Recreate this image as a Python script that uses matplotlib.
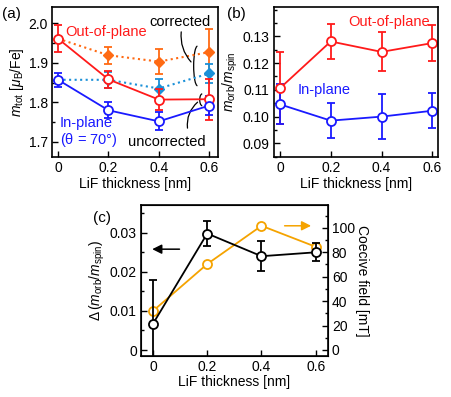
import numpy as np
import matplotlib
matplotlib.use('Agg')
import matplotlib.pyplot as plt
from matplotlib.patches import Arc
from matplotlib.ticker import MultipleLocator

plt.rcParams['font.family'] = ['Liberation Sans', 'DejaVu Sans']
plt.rcParams['mathtext.fontset'] = 'custom'
plt.rcParams['mathtext.rm'] = 'Liberation Sans'
plt.rcParams['mathtext.it'] = 'Liberation Sans:italic'
plt.rcParams['mathtext.bf'] = 'Liberation Sans:bold'
plt.rcParams['font.size'] = 10

# data
lif = [0, 0.2, 0.4, 0.6]

# (a) total moment
mtot_oop = [1.961, 1.858, 1.807, 1.808]
mtot_oop_err = [0.035, 0.022, 0.026, 0.052]
mtot_ip = [1.857, 1.780, 1.752, 1.792]
mtot_ip_err = [0.017, 0.020, 0.023, 0.023]
mtot_oop_corr = [1.961, 1.919, 1.903, 1.927]
mtot_oop_corr_err = [0.0, 0.021, 0.031, 0.059]
mtot_ip_corr = [1.857, 1.857, 1.835, 1.873]
mtot_ip_corr_err = [0.0, 0.020, 0.025, 0.024]

# (b) orbital / spin ratio
ratio_oop = [0.1106, 0.1281, 0.1242, 0.1275]
ratio_oop_err = [0.0135, 0.0066, 0.0073, 0.0066]
ratio_ip = [0.1046, 0.0985, 0.1000, 0.1022]
ratio_ip_err = [0.0075, 0.0065, 0.0085, 0.0065]

# (c) anisotropy of ratio and coercive field
d_ratio = [0.0067, 0.0298, 0.0240, 0.0250]
d_ratio_err = [0.0113, 0.0033, 0.0039, 0.0023]
coercive = [31.9, 70.3, 101.6, 84.4]

RED = '#ff1a1a'
BLUE = '#1a1aff'
ORANGE = '#ff6a13'
LBLUE = '#1a90d8'
YEL = '#f5a300'

fig = plt.figure(figsize=(4.52, 3.97), dpi=100)


def style(ax):
    ax.tick_params(direction='in', length=4, width=1, labelsize=10, pad=3)
    ax.tick_params(which='minor', direction='in', length=2, width=1)
    for s in ax.spines.values():
        s.set_linewidth(1.2)
    ax.set_xticks([0, 0.2, 0.4, 0.6])
    ax.set_xticklabels(['0', '0.2', '0.4', '0.6'])


# ---- (a)
ax = fig.add_axes([0.115, 0.6045, 0.367, 0.378])
ax.errorbar(lif, mtot_oop_corr, yerr=mtot_oop_corr_err, color=ORANGE, ls=':', lw=1.5,
            marker='D', ms=5, capsize=3, elinewidth=1.3, capthick=1.3, zorder=2)
ax.errorbar(lif, mtot_ip_corr, yerr=mtot_ip_corr_err, color=LBLUE, ls=':', lw=1.5,
            marker='D', ms=5, capsize=3, elinewidth=1.3, capthick=1.3, zorder=2)
ax.errorbar(lif, mtot_oop, yerr=mtot_oop_err, color=RED, lw=1.3, marker='o', ms=6.5,
            mfc='white', mew=1.3, capsize=3, elinewidth=1.3, capthick=1.3, zorder=3)
ax.errorbar(lif, mtot_ip, yerr=mtot_ip_err, color=BLUE, lw=1.3, marker='o', ms=6.5,
            mfc='white', mew=1.3, capsize=3, elinewidth=1.3, capthick=1.3, zorder=3)
ax.set_xlim(-0.024, 0.634)
ax.set_ylim(1.662, 2.041)
ax.yaxis.set_minor_locator(MultipleLocator(0.05))
style(ax)
ax.set_yticks([1.7, 1.8, 1.9, 2.0])
ax.set_yticklabels(['1.7', '1.8', '1.9', '2.0'])
ax.set_xlabel('LiF thickness [nm]', labelpad=1)
ax.set_ylabel(r'$m_\mathrm{tot}$ [$\mu_\mathrm{B}$/Fe]', labelpad=2)
ax.text(0.028, 1.978, 'Out-of-plane', color=RED, fontsize=10.5, va='center', ha='left')
ax.text(0.008, 1.747, 'In-plane', color=BLUE, fontsize=10.5, va='center', ha='left')
ax.text(0.008, 1.704, r'($\mathrm{\theta}$ = 70°)', color=BLUE, fontsize=10.5,
        va='center', ha='left')
ax.text(0.484, 2.004, 'corrected', fontsize=10.5, ha='center', va='center')
ax.text(0.432, 1.700, 'uncorrected', fontsize=10.5, ha='center', va='center')
ax.annotate('', xy=(0.535, 1.897), xytext=(0.49, 1.985),
            arrowprops=dict(arrowstyle='-', lw=0.9, connectionstyle='arc3,rad=0.25'))
ax.add_patch(Arc((0.553, 1.892), 0.03, 0.100, theta1=90, theta2=270, lw=0.9))
ax.annotate('', xy=(0.562, 1.805), xytext=(0.515, 1.728),
            arrowprops=dict(arrowstyle='-', lw=0.9, connectionstyle='arc3,rad=-0.3'))
ax.add_patch(Arc((0.572, 1.8065), 0.02, 0.030, theta1=90, theta2=270, lw=0.9))
fig.text(0.005, 0.965, '(a)', fontsize=11, va='center')

# ---- (b)
bx = fig.add_axes([0.606, 0.6045, 0.363, 0.378])
bx.errorbar(lif, ratio_oop, yerr=ratio_oop_err, color=RED, lw=1.3, marker='o', ms=6.5,
            mfc='white', mew=1.3, capsize=3, elinewidth=1.3, capthick=1.3)
bx.errorbar(lif, ratio_ip, yerr=ratio_ip_err, color=BLUE, lw=1.3, marker='o', ms=6.5,
            mfc='white', mew=1.3, capsize=3, elinewidth=1.3, capthick=1.3)
bx.set_xlim(-0.0236, 0.622)
bx.set_ylim(0.0849, 0.141)
bx.yaxis.set_minor_locator(MultipleLocator(0.005))
style(bx)
bx.set_yticks([0.09, 0.10, 0.11, 0.12, 0.13])
bx.set_yticklabels(['0.09', '0.10', '0.11', '0.12', '0.13'])
bx.set_xlabel('LiF thickness [nm]', labelpad=1)
bx.set_ylabel(r'$m_\mathrm{orb}/m_\mathrm{spin}$', labelpad=2)
bx.text(0.27, 0.1353, 'Out-of-plane', color=RED, fontsize=10.5, va='center', ha='left')
bx.text(0.068, 0.1100, 'In-plane', color=BLUE, fontsize=10.5, va='center', ha='left')
fig.text(0.502, 0.965, '(b)', fontsize=11, va='center')

# ---- (c)
cx = fig.add_axes([0.312, 0.104, 0.413, 0.3796])
cx.errorbar(lif, d_ratio, yerr=d_ratio_err, color='black', lw=1.3, marker='o', ms=6.5,
            mfc='white', mew=1.3, capsize=3, elinewidth=1.3, capthick=1.3, zorder=3)
cx.set_xlim(-0.044, 0.644)
cx.set_ylim(-0.00146, 0.0371)
cx.yaxis.set_minor_locator(MultipleLocator(0.005))
style(cx)
cx.set_yticks([0, 0.01, 0.02, 0.03])
cx.set_yticklabels(['0', '0.01', '0.02', '0.03'])
cx.set_xlabel('LiF thickness [nm]', labelpad=1)
cx.set_ylabel(r'$\Delta\,(m_\mathrm{orb}/m_\mathrm{spin})$', labelpad=2)
cx.annotate('', xy=(-0.013, 0.0258), xytext=(0.108, 0.0258),
            arrowprops=dict(arrowstyle='-|>', lw=1.1, color='black', mutation_scale=14))

c2 = cx.twinx()
c2.plot(lif, coercive, color=YEL, lw=1.3, marker='o', ms=6.5, mfc='white', mew=1.3, zorder=2)
c2.set_ylim(-4.7, 118.6)
c2.set_yticks([0, 20, 40, 60, 80, 100])
c2.yaxis.set_minor_locator(MultipleLocator(10))
c2.tick_params(direction='in', length=4, width=1, labelsize=10, pad=3)
c2.tick_params(which='minor', direction='in', length=2, width=1)
c2.set_ylabel('Coecive field [mT]', rotation=270, labelpad=10)
c2.annotate('', xy=(0.593, 101.6), xytext=(0.475, 101.6),
            arrowprops=dict(arrowstyle='-|>', lw=1.1, color=YEL, mutation_scale=14))
cx.set_zorder(c2.get_zorder() + 1)
cx.patch.set_visible(False)
fig.text(0.205, 0.45, '(c)', fontsize=11, va='center')

fig.savefig('out.png', dpi=100)
